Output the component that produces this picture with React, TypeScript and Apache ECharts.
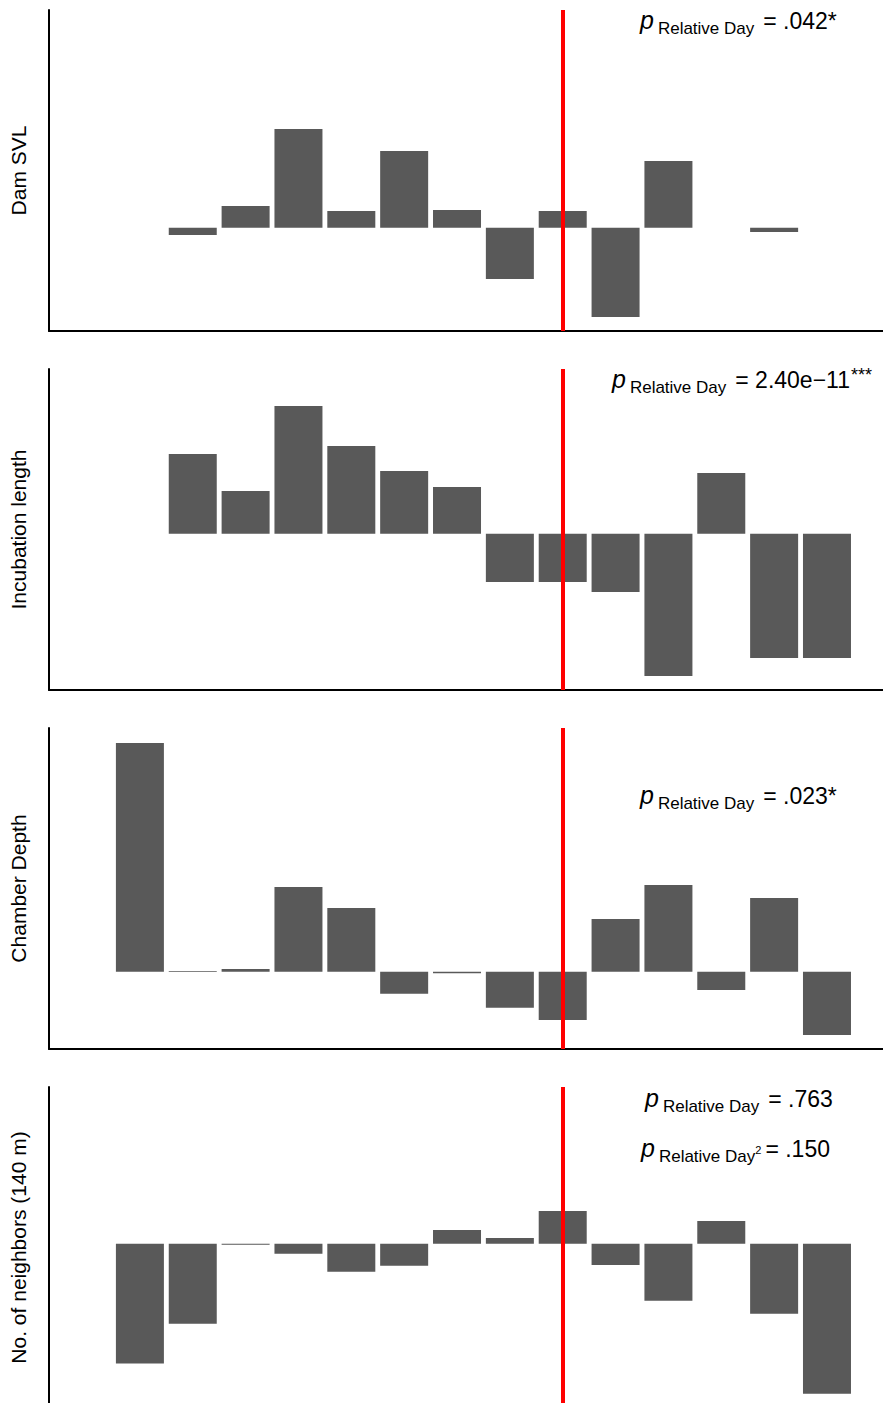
import React, { useEffect, useRef } from "react";
import * as echarts from "echarts";

// Relative day of each bar (red line marks day 0)
const relativeDays = [-8, -7, -6, -5, -4, -3, -2, -1, 0, 1, 2, 3, 4, 5];

// Bar values (arbitrary residual units, zero = baseline)
const damSVL = [null, -7.3, 21.7, 98.7, 16.7, 76.7, 17.7, -51.3, 16.7, -89.3, 66.7, null, -4.3, null];
const incubationLength = [null, 79.7, 42.7, 127.7, 87.7, 62.7, 46.7, -48.3, -48.3, -58.3, -142.3, 60.7, -124.3, -124.3];
const chamberDepth = [228.7, 0.8, 2.7, 84.7, 63.7, -22, -1.5, -36, -48.3, 52.7, 86.7, -18.3, 73.7, -63.3];
const neighbors = [-119.8, -80, -1, -10, -28, -22, 13.7, 5.7, 32.7, -21.3, -57, 22.7, -70, -150];

const panelNames = ["Dam SVL", "Incubation length", "Chamber Depth", "No. of neighbors (140 m)"];
const panelValues = [damSVL, incubationLength, chamberDepth, neighbors];
const yMin = [-103.3, -156.3, -77.3, -164.3];
const yMax = [217.7, 164.7, 243.7, 156.7];
const xMin = -9.72;
const xMax = 6.06;

const FONT = "'Liberation Sans', Arial, Helvetica, sans-serif";

const pValues = [".042*", "2.40e\u221211", ".023*", ".763", ".150"];

export default function App() {
  const ref = useRef<HTMLDivElement>(null);

  useEffect(() => {
    if (!ref.current) return;
    const chart = echarts.init(ref.current, undefined, { renderer: "svg" });

    const canvas = document.createElement("canvas");
    const ctx = canvas.getContext("2d")!;
    const measure = (text: string, size: number, italic = false) => {
      ctx.font = `${italic ? "italic " : ""}${size}px ${FONT}`;
      return ctx.measureText(text).width;
    };

    type Part = { text: string; size: number; italic?: boolean; dy?: number; gap?: number };
    const makeLabel = (x0: number, baseline: number, parts: Part[]) => {
      const els: any[] = [];
      let x = x0;
      parts.forEach((p) => {
        x += p.gap || 0;
        const b = baseline + (p.dy || 0);
        els.push({
          type: "text",
          x,
          y: b - 0.3465 * p.size,
          silent: true,
          style: {
            text: p.text,
            fontSize: p.size,
            fontFamily: FONT,
            fontStyle: p.italic ? "italic" : "normal",
            fill: "#000",
            align: "left",
            verticalAlign: "middle",
          },
        });
        x += measure(p.text, p.size, p.italic);
      });
      return els;
    };

    const P = 25, S = 17, M = 23;
    const stdParts = (val: string): Part[] => [
      { text: "p", size: P, italic: true },
      { text: "Relative Day", size: S, dy: 5, gap: 4 },
      { text: "= " + val, size: M, gap: 9 },
    ];

    const graphics: any[] = [
      ...makeLabel(640, 29, stdParts(pValues[0])),
      ...makeLabel(612, 388, [
        { text: "p", size: P, italic: true },
        { text: "Relative Day", size: S, dy: 5, gap: 4 },
        { text: "= " + pValues[1], size: M, gap: 9 },
        { text: "***", size: 18, dy: -7, gap: 1 },
      ]),
      ...makeLabel(640, 804, stdParts(pValues[2])),
      ...makeLabel(645, 1107, stdParts(pValues[3])),
      ...makeLabel(641, 1157, [
        { text: "p", size: P, italic: true },
        { text: "Relative Day", size: S, dy: 5, gap: 4 },
        { text: "2", size: 11, dy: -3, gap: 0 },
        { text: "= " + pValues[4], size: M, gap: 4 },
      ]),
    ];

    const tops = [10, 369, 728, 1087];
    const option: any = {
      animation: false,
      backgroundColor: "#ffffff",
      grid: tops.map((t) => ({ left: 49, width: 834, top: t, height: 321 })),
      xAxis: tops.map((_, i) => ({
        type: "value",
        gridIndex: i,
        min: xMin,
        max: xMax,
        axisLine: { show: true, onZero: false, lineStyle: { color: "#000", width: 2 } },
        axisTick: { show: false },
        axisLabel: { show: false },
        splitLine: { show: false },
      })),
      yAxis: tops.map((_, i) => ({
        type: "value",
        gridIndex: i,
        min: yMin[i],
        max: yMax[i],
        name: panelNames[i],
        nameLocation: "middle",
        nameGap: 20,
        nameTextStyle: { fontSize: 21, color: "#000", fontFamily: FONT },
        axisLine: { show: true, onZero: false, lineStyle: { color: "#000", width: 2 } },
        axisTick: { show: false },
        axisLabel: { show: false },
        splitLine: { show: false },
      })),
      series: panelValues.map((vals, i) => ({
        type: "bar",
        xAxisIndex: i,
        yAxisIndex: i,
        barWidth: 48,
        itemStyle: { color: "#595959" },
        data: relativeDays
          .map((d, k) => [d, vals[k]])
          .filter((p) => p[1] !== null),
        markLine: {
          silent: true,
          symbol: "none",
          label: { show: false },
          lineStyle: { color: "#ff0000", width: 4, type: "solid" },
          data: [{ xAxis: 0 }],
        },
      })),
      graphic: graphics,
    };

    chart.setOption(option);
    return () => chart.dispose();
  }, []);

  return (
    <div
      style={{ position: "absolute", left: 0, top: 0, width: 883, height: 1403, overflow: "hidden", background: "#fff" }}
    >
      <div ref={ref} style={{ width: 883, height: 1430 }} />
    </div>
  );
}
